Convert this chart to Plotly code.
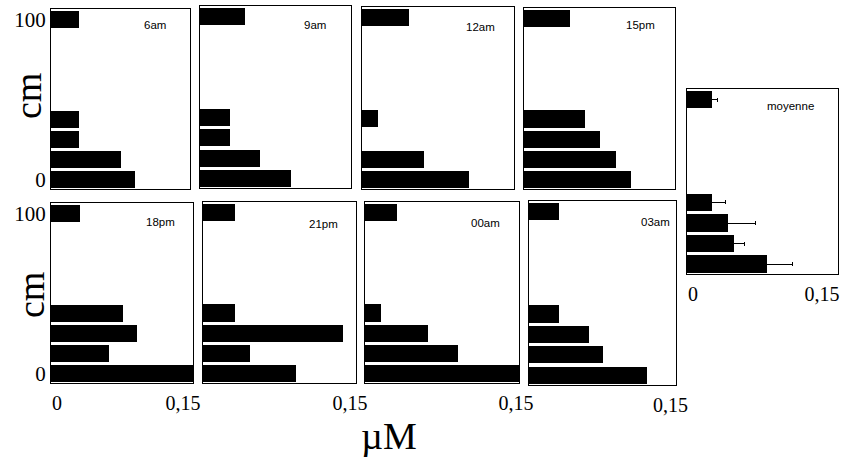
import plotly.graph_objects as go

# ---- data ----
depth_cm = [0, 12.5, 25, 37.5, 100]          # bar positions (cm axis)
panel_names = ["6am", "9am", "12am", "15pm", "18pm", "21pm", "00am", "03am", "moyenne"]
v_6am = [0.091, 0.076, 0.030, 0.030, 0.030]
v_9am = [0.090, 0.060, 0.030, 0.030, 0.045]
v_12am = [0.106, 0.061, 0.0, 0.016, 0.046]
v_15pm = [0.106, 0.091, 0.075, 0.061, 0.046]
v_18pm = [0.150, 0.061, 0.091, 0.076, 0.031]
v_21pm = [0.091, 0.046, 0.137, 0.031, 0.031]
v_00am = [0.152, 0.091, 0.061, 0.016, 0.031]
v_03am = [0.120, 0.076, 0.061, 0.031, 0.031]
moyenne = [0.0795, 0.047, 0.041, 0.025, 0.025]
moyenne_err = [0.025, 0.010, 0.0275, 0.013, 0.005]
y_ticks = [0, 100]
y_ticktext = ["0", "100"]

series = [v_6am, v_9am, v_12am, v_15pm, v_18pm, v_21pm, v_00am, v_03am, moyenne]

# ---- layout (pixel boxes: left, right, top, bottom) ----
W, H = 846, 463
boxes = [
    (51, 190, 9, 189), (200, 351, 6, 188), (362, 514, 7, 189), (524, 675, 8, 189),
    (51, 193, 203, 383), (203, 356, 202, 383), (365, 519, 202, 383), (529, 676, 201, 385),
    (687, 838, 89, 274),
]
# x tick labels per panel (label placement along the 0..0.15 axis)
x_tick_sets = [
    ([], []), ([], []), ([], []), ([], []),
    ([0.0063, 0.1394], ["0", "0,15"]),
    ([0.1441], ["0,15"]),
    ([0.1471], ["0,15"]),
    ([0.1444], ["0,15"]),
    ([0.006, 0.1341], ["0", "0,15"]),
]
title_off = [(22, 16), (23, 19), (17, 20), (18, 17), (16, 19), (16, 22), (17, 21), (4, 21), (22, 17)]

serif = "Liberation Serif, Times New Roman, serif"
sans = "Liberation Sans, Arial, sans-serif"

fig = go.Figure()
annotations = []
for i, (vals, box) in enumerate(zip(series, boxes)):
    n = i + 1
    xa = "x" if n == 1 else f"x{n}"
    ya = "y" if n == 1 else f"y{n}"
    kw = dict(x=vals, y=depth_cm, orientation="h", width=10.6,
              marker=dict(color="black", line=dict(width=0)),
              xaxis=xa, yaxis=ya, showlegend=False, hoverinfo="x+y")
    if n == 9:
        kw["error_x"] = dict(type="data", array=moyenne_err, visible=True,
                             color="black", thickness=1, width=2)
    fig.add_trace(go.Bar(**kw))
    l, r, t, b = box
    tv, tt = x_tick_sets[i]
    left_col = n in (1, 5)
    xaxis = dict(domain=[l / W, r / W], range=[0, 0.15], anchor=ya,
                 showgrid=False, zeroline=False, showline=True, mirror=True,
                 linecolor="black", linewidth=1, ticks="",
                 tickvals=tv, ticktext=tt, showticklabels=len(tv) > 0,
                 tickfont=dict(family=serif, size=20, color="black"),
                 ticklabelstandoff=2, automargin=False, fixedrange=True)
    yaxis = dict(domain=[1 - b / H, 1 - t / H], range=[-6, 106.5], anchor=xa,
                 showgrid=False, zeroline=False, showline=True, mirror=True,
                 linecolor="black", linewidth=1, ticks="",
                 tickvals=y_ticks, ticktext=y_ticktext,
                 showticklabels=left_col,
                 tickfont=dict(family=serif, size=21, color="black"),
                 ticklabelstandoff=0, automargin=False, fixedrange=True)
    fig.layout[("xaxis" if n == 1 else f"xaxis{n}")] = xaxis
    fig.layout[("yaxis" if n == 1 else f"yaxis{n}")] = yaxis
    dx, dy = title_off[i]
    annotations.append(dict(text=panel_names[i], xref=f"{xa} domain", yref=f"{ya} domain",
                            x=1, y=1, xanchor="right", yanchor="middle",
                            xshift=-dx, yshift=-dy, showarrow=False,
                            font=dict(family=sans, size=11.5, color="black")))

for cy, cx in ((96, 28), (295, 31)):
    annotations.append(dict(text="cm", xref="paper", yref="paper", x=cx / W, y=1 - cy / H,
                            xanchor="center", yanchor="middle",
                            textangle=-90, showarrow=False,
                            font=dict(family=serif, size=38, color="black")))
annotations.append(dict(text="µM", xref="paper", yref="paper", x=389 / W, y=1 - 436 / H,
                        xanchor="center", yanchor="middle", showarrow=False,
                        font=dict(family=serif, size=38, color="black")))

fig.update_layout(width=W, height=H, margin=dict(l=0, r=0, t=0, b=0, autoexpand=False),
                  paper_bgcolor="white", plot_bgcolor="white",
                  annotations=annotations, bargap=0)
fig.write_html("out.html", config={"displayModeBar": False},
               post_script="document.body.style.margin='0';document.body.style.overflow='hidden';")
